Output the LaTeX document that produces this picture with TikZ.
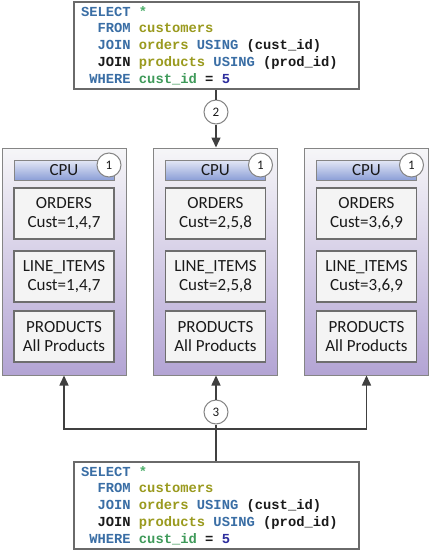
\documentclass[tikz,border=0pt]{standalone}
\usepackage{fontspec}
\setmainfont{Carlito}
\setmonofont{Liberation Mono}
\usetikzlibrary{arrows.meta,calc}
\definecolor{kw}{HTML}{3A6EA5}
\definecolor{tbl}{HTML}{9A9A1E}
\definecolor{col}{HTML}{3F9A5A}
\definecolor{numc}{HTML}{2E2E9E}
\definecolor{star}{HTML}{4CAF6A}
\definecolor{txt}{HTML}{1A1A1A}
\definecolor{srvtop}{HTML}{F6F6F8}
\definecolor{lav}{HTML}{B3A4D4}
\definecolor{cputop}{HTML}{E4E8F6}
\definecolor{cpub}{HTML}{8C9FD7}
\definecolor{edge}{HTML}{858585}
\definecolor{partedge}{HTML}{6E6E6E}
\definecolor{partfill}{HTML}{F4F4F4}
\definecolor{sqledge}{HTML}{6A6A6A}
\definecolor{arr}{HTML}{404040}
\newcommand\ws{\leavevmode\hbox to 0.6em{}}
\newcommand\sqlquery{%
\textcolor{kw}{SELECT}\ws\textcolor{star}{*}\\
\ws\ws\textcolor{kw}{FROM}\ws\textcolor{tbl}{customers}\\
\ws\ws\textcolor{kw}{JOIN}\ws\textcolor{tbl}{orders}\ws\textcolor{kw}{USING}\ws(cust\_id)\\
\ws\ws JOIN\ws\textcolor{tbl}{products}\ws\textcolor{kw}{USING}\ws(prod\_id)\\
\ws\textcolor{kw}{WHERE}\ws\textcolor{col}{cust\_id}\ws=\ws\textcolor{numc}{5}}
\begin{document}
\begin{tikzpicture}[x=1pt,y=-1pt,
  server/.style={draw=edge, line width=1pt, top color=srvtop, bottom color=lav,
    minimum width=124pt, minimum height=227pt, inner sep=0pt},
  part/.style={draw=partedge, line width=1.2pt, fill=partfill, minimum width=100pt,
    minimum height=51pt, align=center, inner sep=0pt, text=txt,
    font=\fontsize{17}{18.5}\selectfont},
  cpubar/.style={draw=edge, line width=1pt, top color=cputop, bottom color=cpub,
    minimum width=100pt, minimum height=20pt, inner sep=0pt, text=txt,
    font=\fontsize{17}{18}\selectfont},
  numc/.style={circle, draw=edge, line width=1pt, fill=white, minimum size=24pt,
    inner sep=0pt, text=txt, font=\fontsize{13}{13}\selectfont},
  sql/.style={draw=sqledge, line width=1.2pt, fill=white, minimum width=285pt,
    minimum height=87pt, align=left, text width=271pt, inner xsep=7pt, text=txt,
    font=\ttfamily\bfseries\fontsize{13.8}{16.8}\selectfont},
  conn/.style={draw=arr, line width=1.5pt},
  tip/.style={-{Triangle[length=10pt,width=9pt]}}
]
\useasboundingbox (0,0) rectangle (432,552);

\foreach \n/\x/\c in {l/64/{1,4,7}, m/215.5/{2,5,8}, r/366.5/{3,6,9}} {
  \node[server] (\n srv) at (\x,261.5) {};
  \node[cpubar] (\n cpu) at (\x,170) {CPU};
  \node[part] (\n ord) at (\x,213.5) {ORDERS\\Cust=\c};
  \node[part] (\n li) at (\x,276.5) {LINE\_ITEMS\\Cust=\c};
  \node[part] (\n pr) at (\x,336.5) {PRODUCTS\\All Products};
  \node[numc] (\n one) at (\x+45,165) {1};
}

\node[sql] (q1) at (216.5,45.5) {\sqlquery};
\node[sql] (q2) at (216.5,505.5) {\sqlquery};

\node[numc] (c2) at (216,112) {2};
\node[numc] (c3) at (216,412) {3};
\coordinate (j) at (216,429);

\draw[conn] (q1.south -| c2) -- (c2);
\draw[conn,tip] (c2) -- (c2 |- msrv.north);
\draw[conn] (q2.north -| j) -- (j);
\draw[conn] (j) -- (c3);
\draw[conn,tip] (c3) -- (c3 |- msrv.south);
\draw[conn,tip] (j) -| (lsrv.south);
\draw[conn,tip] (j) -| (rsrv.south);
\end{tikzpicture}
\end{document}
